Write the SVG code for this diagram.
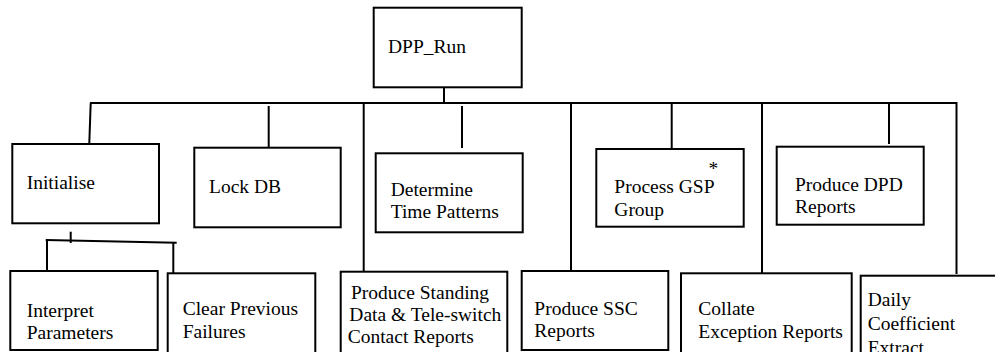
<svg xmlns="http://www.w3.org/2000/svg" width="995" height="352" viewBox="0 0 995 352" font-family="'Liberation Serif', 'Times New Roman', Times, serif">
<style>
.box{fill:#fff;stroke:#000;stroke-width:2}
.c{fill:none;stroke:#000;stroke-width:2}
.t{font-family:'Liberation Serif','Times New Roman',Times,serif;font-size:19.5px;fill:#000}
</style>
<rect width="995" height="352" fill="#fff"/>
<g id="connectors">
<line class="c" x1="444" y1="88" x2="444" y2="103"/>
<line class="c" x1="90" y1="103" x2="957" y2="103"/>
<line class="c" x1="90.7" y1="103" x2="89.3" y2="143"/>
<line class="c" x1="268.7" y1="106" x2="268.7" y2="148"/>
<line class="c" x1="363.7" y1="103" x2="363.7" y2="277"/>
<line class="c" x1="462" y1="106" x2="462" y2="148"/>
<line class="c" x1="571" y1="103" x2="571" y2="278"/>
<line class="c" x1="671.7" y1="103" x2="671.7" y2="150"/>
<line class="c" x1="762" y1="103" x2="762" y2="277"/>
<line class="c" x1="889" y1="103" x2="889" y2="144"/>
<line class="c" x1="956.5" y1="102" x2="956.5" y2="274"/>
<line class="c" x1="70.7" y1="231.7" x2="70.7" y2="243"/>
<line class="c" x1="45.7" y1="240" x2="176.7" y2="242.7"/>
<line class="c" x1="47" y1="241" x2="47" y2="271"/>
<line class="c" x1="173.3" y1="242.5" x2="173.3" y2="276"/>
</g>
<g id="dpp-run"><rect class="box" x="373.7" y="7.7" width="148" height="79.6"/><text class="t" x="388" y="53">DPP_Run</text></g>
<g id="initialise"><rect class="box" x="12.3" y="144" width="146.7" height="79.3"/><text class="t" x="26.7" y="189.3">Initialise</text></g>
<g id="lock-db"><rect class="box" x="194.3" y="147.7" width="146.4" height="79.6"/><text class="t" x="209" y="192.7">Lock DB</text></g>
<g id="determine-time-patterns"><rect class="box" x="375.7" y="153.3" width="147" height="79"/><text class="t" x="390.7" y="196">Determine</text><text class="t" x="390.7" y="218.3">Time Patterns</text></g>
<g id="process-gsp-group"><rect class="box" x="596.3" y="149" width="147.4" height="77.7"/><text class="t" x="708.5" y="175">*</text><text class="t" x="614.3" y="192.7">Process GSP</text><text class="t" x="614.3" y="215.5">Group</text></g>
<g id="produce-dpd-reports"><rect class="box" x="776.7" y="146.7" width="147" height="78"/><text class="t" x="795" y="190.7">Produce DPD</text><text class="t" x="795" y="213">Reports</text></g>
<g id="interpret-parameters"><rect class="box" x="10.3" y="271" width="147.4" height="79"/><text class="t" x="26.7" y="316.5">Interpret</text><text class="t" x="26.7" y="339">Parameters</text></g>
<g id="clear-previous-failures"><rect class="box" x="167.7" y="273.3" width="147.6" height="82"/><text class="t" x="182.7" y="315">Clear Previous</text><text class="t" x="182.7" y="337.5">Failures</text></g>
<g id="produce-standing-data"><rect class="box" x="340.7" y="271.7" width="166.6" height="83"/><text class="t" x="351" y="298.7">Produce Standing</text><text class="t" x="349.3" y="320.7">Data &amp; Tele-switch</text><text class="t" x="347.7" y="342.7">Contact Reports</text></g>
<g id="produce-ssc-reports"><rect class="box" x="521.7" y="271" width="146.6" height="79"/><text class="t" x="534.3" y="314.5">Produce SSC</text><text class="t" x="534.3" y="337">Reports</text></g>
<g id="collate-exception-reports"><rect class="box" x="681" y="273.3" width="170.7" height="82"/><text class="t" x="698.3" y="314.5">Collate</text><text class="t" x="698.3" y="338.3">Exception Reports</text></g>
<g id="daily-coefficient-extract"><rect class="box" x="860.7" y="275.7" width="150" height="82"/><text class="t" x="867.7" y="306">Daily</text><text class="t" x="867.7" y="330">Coefficient</text><text class="t" x="867.7" y="353.5">Extract</text></g>
</svg>
